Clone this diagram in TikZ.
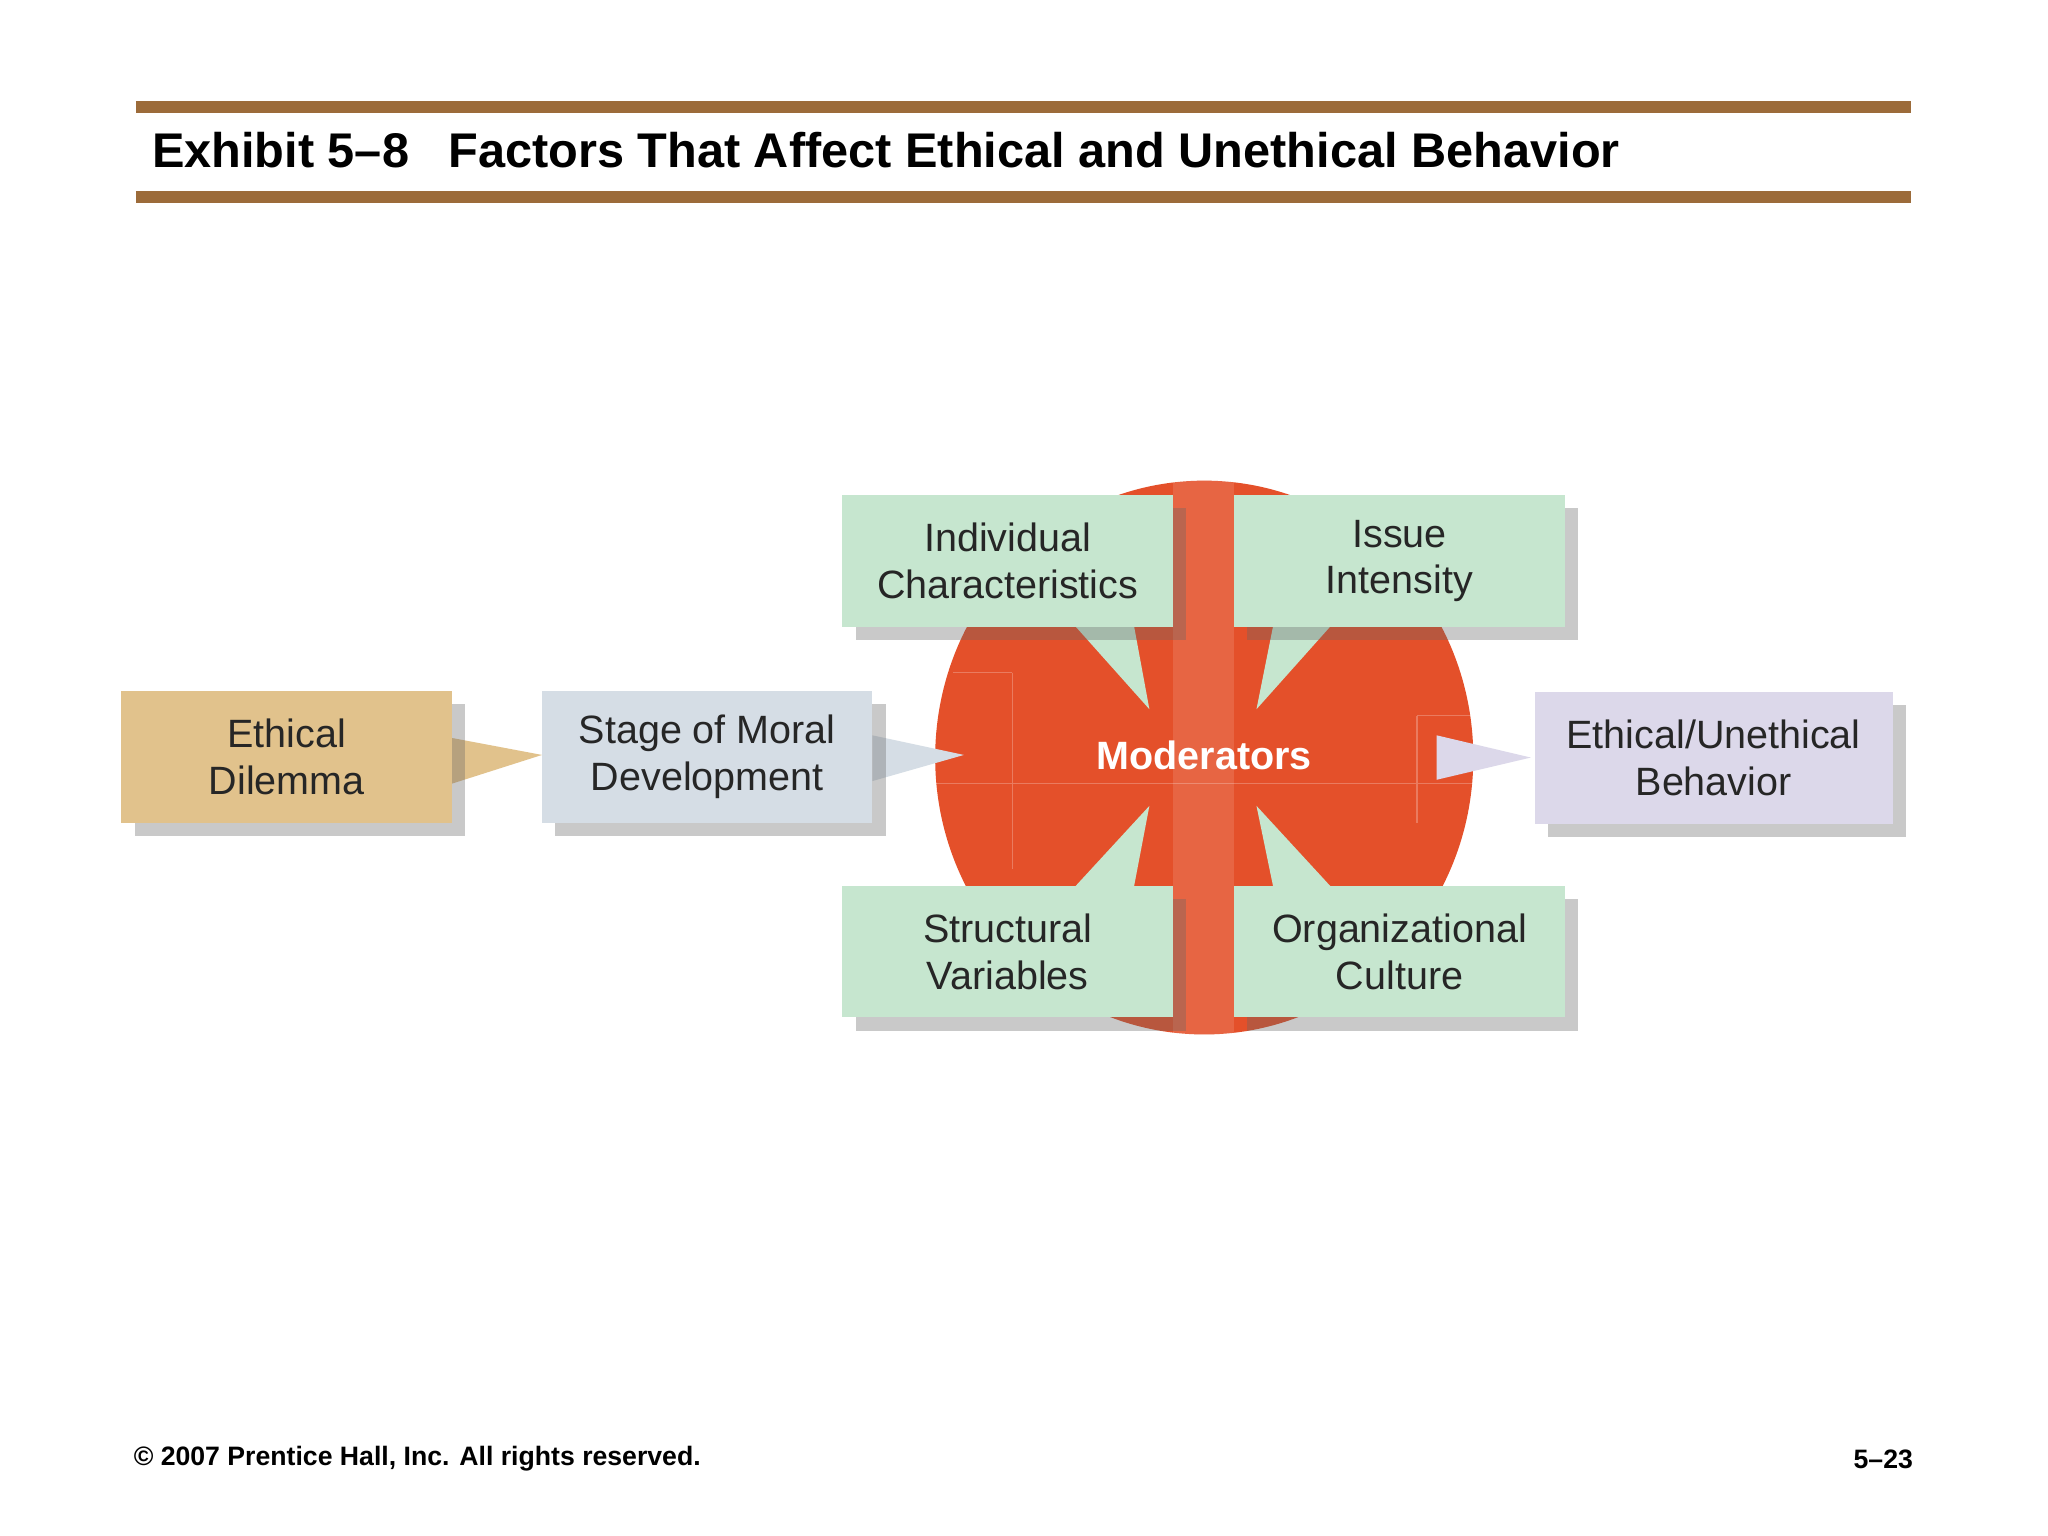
\documentclass[tikz,border=0pt]{standalone}
\usepackage{fontspec}
\setmainfont{Liberation Sans}
\usetikzlibrary{shadows}
\definecolor{rulebrown}{HTML}{9C6B3A}
\definecolor{modred}{HTML}{E4502A}
\definecolor{greenbox}{HTML}{C6E6CF}
\definecolor{tanbox}{HTML}{E1C28C}
\definecolor{bluebox}{HTML}{D5DDE5}
\definecolor{lavbox}{HTML}{DCD8EA}
\tikzset{
  factor/.style={minimum width=253*0.01cm, minimum height=101*0.01cm, inner sep=0pt, align=center,
    font=\fontsize{8.6}{10.2}\selectfont, text=black!85,
    drop shadow={shadow xshift=0.1cm, shadow yshift=-0.1cm, opacity=0.35, fill=black!60}},
  ptr/.style={draw=none},
}
\begin{document}
\begin{tikzpicture}[x=0.01cm,y=-0.01cm]
\useasboundingbox (0,0) rectangle (1568,1176);
\fill[white] (0,0) rectangle (1568,1176);
\draw[rulebrown, line width=0.09cm] (104,82) -- (1463,82);
\draw[rulebrown, line width=0.09cm] (104,151) -- (1463,151);
\node[anchor=west, font=\bfseries\fontsize{10.6}{12}\selectfont] (title) at (104,115) {Exhibit 5–8\hspace{0.3cm}Factors That Affect Ethical and Unethical Behavior};
% circle
\fill[modred] (922,580) ellipse [x radius=206, y radius=212];
\draw[white, opacity=0.25, line width=0.3pt] (775,515) -- (775,665) (1085,548) -- (1085,630) (775,515) -- (730,515) (716,600) -- (1128,600) (1085,548) -- (1128,548);
\fill[white, opacity=0.12] (898,368) rectangle (945,792);
\node[font=\bfseries\fontsize{8.6}{10}\selectfont, text=white] (mod) at (922,578) {Moderators};
% pointers
\fill[tanbox] (346,565) -- (415,578) -- (346,600) -- cycle;
\fill[bluebox] (668,563) -- (738,578) -- (668,598) -- cycle;
\fill[greenbox] (822,478) -- (880,543) -- (868,478) -- cycle;
\fill[greenbox] (975,478) -- (962,543) -- (1020,478) -- cycle;
\fill[greenbox] (822,680) -- (880,617) -- (868,680) -- cycle;
\fill[greenbox] (975,680) -- (962,617) -- (1020,680) -- cycle;
\fill[lavbox] (1100,563) -- (1172,580) -- (1100,597) -- cycle;
% boxes
\node[factor, fill=tanbox] (dil) at (219.5,579.5) {Ethical\\Dilemma};
\node[factor, fill=bluebox] (stage) at (541.5,579.5) {Stage of Moral\\Development};
\node[factor, fill=greenbox] (ind) at (771.5,429.5) {Individual\\Characteristics};
\node[factor, fill=greenbox] (iss) at (1071.5,429.5) {Issue\\Intensity};
\node[factor, fill=greenbox] (str) at (771.5,728.5) {Structural\\Variables};
\node[factor, fill=greenbox] (org) at (1071.5,728.5) {Organizational\\Culture};
\node[factor, fill=lavbox, minimum width=274*0.01cm] (beh) at (1312,580.5) {Ethical/Unethical\\Behavior};
% footer
\node[anchor=west, font=\bfseries\fontsize{5.8}{7}\selectfont] (copy) at (90,1117) {© 2007 Prentice Hall, Inc. All rights reserved.};
\node[anchor=east, font=\bfseries\fontsize{5.8}{7}\selectfont] (page) at (1477,1117) {5–23};
\end{tikzpicture}
\end{document}
